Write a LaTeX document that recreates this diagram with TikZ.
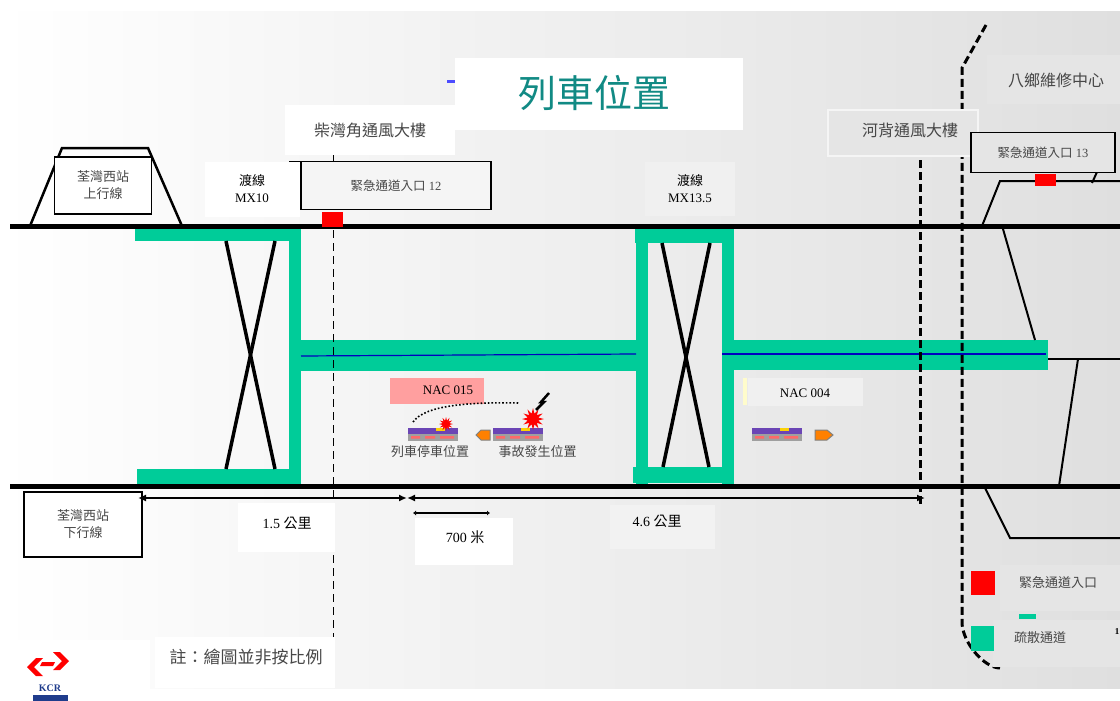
\documentclass[tikz,border=0pt]{standalone}
\usepackage{fontspec}
\usepackage{xcolor}
\usepackage{tikz}
\usetikzlibrary{positioning, arrows.meta, calc, shapes.geometric}
\setmainfont{Liberation Serif}
\newfontfamily\cjk{Noto Sans CJK TC}
\newcommand{\zh}[1]{{\cjk#1}}
\definecolor{corridor}{HTML}{00CC99}
\definecolor{titleteal}{HTML}{118A84}
\definecolor{inkgray}{HTML}{474747}
\definecolor{nacpink}{HTML}{FF9F9F}
\definecolor{panelgray}{HTML}{E5E5E5}
\definecolor{trainviolet}{HTML}{6B45B5}
\definecolor{kcrblue}{HTML}{1F3C8C}

\begin{document}
\begin{tikzpicture}[x=1pt, y=-1pt,
    track/.style={line width=5pt},
    siding/.style={line width=2pt},
    crossline/.style={line width=3.5pt},
    sectionline/.style={line width=3pt, dash pattern=on 8pt off 4pt},
    dimline/.style={line width=2pt, {Latex[length=8pt,width=7pt]}-{Latex[length=8pt,width=7pt]}},
    zhtext/.style={text=inkgray, font=\cjk\fontsize{13}{17}\selectfont, align=center},
    numtext/.style={font=\fontsize{14}{16}\selectfont},
    exitbox/.style={draw, line width=1.8pt, inner sep=0pt, text=inkgray,
        font=\fontsize{12.5}{15}\selectfont},
    stationbox/.style={draw, line width=1.8pt, fill=white, inner sep=0pt, zhtext},
    burst/.style={star, star points=12, star point ratio=2, fill=red, inner sep=0pt},
    pics/train/.style={code={
        \fill[trainviolet] (0,0) rectangle (50,6);
        \fill[yellow!70!orange] (28,0) rectangle (37,2.5);
        \fill[gray!75] (0,6) rectangle (50,13);
        \fill[red!45!pink] (3,8) rectangle (12,10.5) (17,8) rectangle (27,10.5) (32,8) rectangle (46,10.5);
    }}]
    \useasboundingbox (0,0) rectangle (1120,701);
    \shade[left color=white, right color=gray!25] (0,12) rectangle (1120,688);

    % evacuation corridors and crossovers
    \fill[corridor] (135,229) rectangle (301,241);
    \fill[corridor] (289,229) rectangle (301,484);
    \fill[corridor] (137,469) rectangle (301,484);
    \fill[corridor] (301,340) rectangle (636,371);
    \fill[corridor] (635,229) rectangle (734,243);
    \fill[corridor] (636,229) rectangle (648,484);
    \fill[corridor] (722,229) rectangle (734,484);
    \fill[corridor] (633,467) rectangle (734,483);
    \fill[corridor] (734,340) rectangle (1048,370);
    \draw[blue!75!black, line width=1.2pt] (301,356) -- (636,354);
    \draw[blue!75!black, line width=1.2pt] (722,354) -- (1046,354);
    \draw[crossline] (226,241) -- (275,469);
    \draw[crossline] (275,241) -- (226,469);
    \draw[crossline] (662,243) -- (709,467);
    \draw[crossline] (710,243) -- (663,467);

    % main lines
    \draw[track] (10,226.5) -- (1120,226.5);
    \draw[track] (10,486) -- (1120,486);

    % depot sidings
    \draw[siding] (982,226) -- (1000,181) -- (1120,181);
    \draw[siding] (1092,183) -- (1097,172);
    \draw[siding] (1003,229) -- (1035,340);
    \draw[siding] (1048,359) -- (1120,359);
    \draw[siding] (1078,359) -- (1059,486);
    \draw[siding] (985,488) -- (1010,538) -- (1120,538);

    % section boundaries
    \draw[line width=0.8pt, dash pattern=on 8pt off 5pt] (333,230) -- (333,682);
    \draw[line width=0.8pt] (333,155) -- (333,162);
    \draw[line width=0.8pt] (289,161) -- (301,161);
    \draw[sectionline] (920,160) -- (920,505);
    \draw[sectionline] (986,25) -- (962,68) -- (962,622)
        .. controls (962,642) and (984,668) .. (1000,668);

    % stations
    \draw[line width=2.5pt] (30,226) -- (62,148) -- (148,148) -- (182,226);
    \node[stationbox, minimum width=97, minimum height=57] (upstation) at (103,185.5)
        {荃灣西站\\上行線};
    \node[stationbox, line width=1.3pt, minimum width=118, minimum height=65] (downstation)
        at (83,524.5) {荃灣西站\\下行線};

    % labels along the line
    \node[fill=white, minimum width=170, minimum height=50, zhtext,
          font=\cjk\fontsize{16}{18}\selectfont] (chaiwanvent) at (370,130) {柴灣角通風大樓};
    \node[fill=white, minimum width=95, minimum height=55, align=center,
          font=\fontsize{13}{17}\selectfont] (mxten) at (252,189) {\zh{渡線}\\MX10};
    \node[fill=gray!12, minimum width=90, minimum height=54, align=center,
          font=\fontsize{13}{17}\selectfont] (mxthirteen) at (690,189) {\zh{渡線}\\MX13.5};
    \node[exitbox, fill=white!96!black, minimum width=190, minimum height=48] (exittwelve)
        at (396,185.5) {\zh{緊急通道入口} 12};
    \node[fill=red, minimum width=21, minimum height=15, inner sep=0pt] (exitmarktwelve)
        at (332.5,219.5) {};

    \fill[blue!70!white] (447,80) rectangle (455,83);
    \node[fill=white, minimum width=288, minimum height=72] (titlebox) at (599,94) {};
    \node[text=titleteal, font=\cjk\fontsize{38}{40}\selectfont] (title) at (594,93) {列車位置};

    \node[fill=panelgray, draw=white!92!gray, line width=1.5pt, minimum width=150,
          minimum height=46] (hoipuibox) at (903,133) {};
    \node[zhtext, font=\cjk\fontsize{16}{18}\selectfont] (hoipuivent) at (910,130) {河背通風大樓};
    \node[fill=panelgray, minimum width=138, minimum height=49, zhtext,
          font=\cjk\fontsize{16}{18}\selectfont] (depot) at (1056,80) {八鄉維修中心};
    \node[exitbox, fill=panelgray, minimum width=144, minimum height=40] (exitthirteen)
        at (1043,152.5) {\zh{緊急通道入口} 13};
    \node[fill=red, minimum width=21, minimum height=12, inner sep=0pt] (exitmarkthirteen)
        at (1045.5,180) {};

    % trains
    \node[fill=nacpink, minimum width=94, minimum height=26] (nacfifteenbox) at (437,391) {};
    \node[font=\fontsize{13}{15}\selectfont] (nacfifteen) at (448,390) {NAC 015};
    \pic at (408,428) {train};
    \pic at (493,428) {train};
    \draw[fill=orange, draw=gray, line width=1pt] (476,435) -- (481,430) -- (490,430)
        -- (490,440) -- (481,440) -- cycle;
    \node[burst, minimum size=14] (stopburst) at (446,424) {};
    \node[burst, minimum size=22] (crashburst) at (533,419) {};
    \coordinate (strike) at (519,403);
    \draw[line width=1.6pt, dotted] (413,422) .. controls (425,405) and (470,402) .. (strike);
    \draw[line width=2.5pt] (549,393) -- (541,402) -- (544,402) -- (536,410);
    \node[zhtext] (stoppos) at (430,452) {列車停車位置};
    \node[zhtext] (crashpos) at (537.5,452) {事故發生位置};

    \fill[yellow!20] (743,378) rectangle (747,405);
    \node[fill=gray!12, minimum width=115, minimum height=28] (nacfourbox) at (805,392) {};
    \node[font=\fontsize{13}{15}\selectfont] (nacfour) at (805,393) {NAC 004};
    \pic at (752,428) {train};
    \draw[fill=orange, draw=gray, line width=1pt] (815,430) -- (827,430) -- (833,435)
        -- (827,440) -- (815,440) -- cycle;

    % distances
    \coordinate (kmstart) at (138,498);
    \coordinate (kmsplit) at (407,498);
    \coordinate (kmend) at (925,498);
    \coordinate (mstart) at (413,513);
    \coordinate (mend) at (490,513);
    \draw[dimline] (kmstart) -- (kmsplit);
    \draw[dimline] (kmsplit) -- (kmend);
    \draw[line width=2pt, {Latex[length=3pt,width=5pt]}-{Latex[length=3pt,width=5pt]}] (mstart) -- (mend);
    \node[fill=white, minimum width=97, minimum height=49] (kmfirstbox) at (286.5,527.5) {};
    \node[numtext] (kmfirst) at (287,523) {1.5 \zh{公里}};
    \node[fill=white, minimum width=98, minimum height=47] (mshortbox) at (464,541.5) {};
    \node[numtext] (mshort) at (465,537) {700 \zh{米}};
    \node[fill=gray!10, minimum width=105, minimum height=44] (kmsecondbox) at (662,527) {};
    \node[numtext] (kmsecond) at (657,521) {4.6 \zh{公里}};

    % legend
    \node[fill=panelgray, minimum width=120, minimum height=46] (legexitbox) at (1060,588) {};
    \node[zhtext] (legexittext) at (1058,583) {緊急通道入口};
    \node[fill=red, minimum size=24, inner sep=0pt] (legexit) at (983,583) {};
    \fill[corridor] (1019,614) rectangle (1036,619);
    \node[fill=panelgray, minimum width=127, minimum height=47] (legcorridorbox) at (1056,643) {};
    \node[zhtext] (legcorridortext) at (1040,638) {疏散通道};
    \node[fill=corridor, minimum width=23, minimum height=25, inner sep=0pt] (legcorridor)
        at (982.5,638.5) {};
    \node[font=\bfseries\fontsize{9}{9}\selectfont, inner sep=0pt] (edgeone) at (1117,632) {1};

    % note and logo
    \fill[white] (0,640) rectangle (150,701);
    \node[fill=white, minimum width=180, minimum height=51] (scalenotebox) at (245,662) {};
    \node[zhtext, font=\cjk\fontsize{17}{20}\selectfont] (scalenote) at (246,657) {註：繪圖並非按比例};
    \fill[red] (27,667) -- (36,658) -- (43,658) -- (34,667) -- (43,676) -- (36,676) -- cycle;
    \fill[red] (69,661) -- (60,652) -- (53,652) -- (62,661) -- (53,670) -- (60,670) -- cycle;
    \fill[red] (42,662) -- (55,662) -- (53,666) -- (40,666) -- cycle;
    \node[text=kcrblue, font=\bfseries\fontsize{10}{10}\selectfont, inner sep=0pt] (kcr)
        at (50,688) {KCR};
    \fill[kcrblue] (33,695) rectangle (68,701);
\end{tikzpicture}
\end{document}
